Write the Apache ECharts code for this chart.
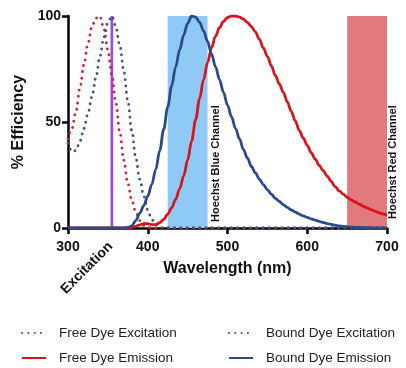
<!DOCTYPE html>
<html>
<head>
<meta charset="utf-8">
<script src="https://cdn.jsdelivr.net/npm/echarts@6/dist/echarts.min.js"></script>
<style>
  html, body { margin: 0; padding: 0; background: #fff; }
  #chart { width: 406px; height: 368px; }
</style>
</head>
<body>
<div id="chart"></div>
<script>
// Hoechst dye spectra: [wavelength nm, % efficiency]
const freeExcitation = [
  [300, 42], [305, 47], [310, 55], [315, 66], [320, 77], [325, 87], [330, 95],
  [335, 99], [340, 100], [345, 94], [350, 84], [355, 72], [360, 59], [365, 45],
  [370, 32], [375, 21], [380, 13], [385, 7.5], [390, 3.5], [395, 1.2], [400, 0.3],
  [405, 0], [410, 0], [700, 0]
];
const boundExcitation = [
  [300, 40], [305, 36], [310, 36.5], [315, 41], [320, 47], [325, 54], [330, 62],
  [335, 71], [340, 81], [345, 90], [350, 97], [355, 100], [360, 95], [365, 86],
  [370, 74], [375, 60], [380, 46], [385, 33], [390, 23], [395, 15], [400, 8.5],
  [405, 4], [410, 1.5], [415, 0.3], [420, 0], [425, 0], [700, 0]
];
const freeEmission = [
  [300, 0], [365, 0], [370, 0], [375, 0], [380, 0.3], [385, 0.8], [390, 1.5],
  [395, 2], [400, 2], [405, 1.6], [410, 1.6], [415, 2.5], [420, 4], [425, 6.5],
  [430, 9.5], [435, 13.5], [440, 18.5], [445, 24.5], [450, 32], [455, 41],
  [460, 51], [465, 61], [470, 70], [475, 78], [480, 85], [485, 90.5], [490, 94.5],
  [495, 97.5], [500, 99.3], [505, 100], [510, 100], [515, 99.5], [520, 98.5],
  [525, 97], [530, 95], [535, 92.5], [540, 89], [545, 85], [550, 81], [555, 76.5],
  [560, 72], [565, 68], [570, 64], [575, 59.5], [580, 55], [585, 50.5], [590, 46],
  [595, 42.5], [600, 39], [605, 35.5], [610, 32.5], [615, 29.5], [620, 27],
  [625, 24.5], [630, 22], [635, 19.5], [640, 17.5], [645, 16], [650, 14.5],
  [655, 13.3], [660, 12.3], [665, 11.3], [670, 10.3], [675, 9.5], [680, 8.7],
  [685, 7.9], [690, 7.2], [695, 6.6], [700, 6]
];
const boundEmission = [
  [300, 0], [365, 0], [370, 0], [375, 0.3], [380, 1], [385, 3.5], [390, 7],
  [395, 10.5], [400, 15], [405, 20.5], [410, 27.5], [415, 36.5], [420, 46.5],
  [425, 57], [430, 67], [435, 76], [440, 84], [445, 91], [450, 96.5], [455, 100],
  [460, 99.5], [465, 97], [470, 93], [475, 88], [480, 82], [485, 76], [490, 70],
  [495, 64], [500, 58], [505, 52.5], [510, 47], [515, 42], [520, 37], [525, 33],
  [530, 29], [535, 26], [540, 23], [545, 20.5], [550, 18], [555, 16], [560, 14],
  [565, 12.5], [570, 11], [575, 9.7], [580, 8.5], [585, 7.5], [590, 6.5],
  [595, 5.7], [600, 5], [605, 4.3], [610, 3.7], [615, 3.1], [620, 2.6],
  [625, 2.1], [630, 1.7], [635, 1.3], [640, 1], [645, 0.8], [650, 0.6],
  [655, 0.45], [660, 0.3], [665, 0.25], [670, 0.2], [675, 0.15], [680, 0.1],
  [685, 0.07], [690, 0.04], [695, 0.02], [700, 0]
];
const excitationLaser = [[355, 0], [355, 100]];
const blueChannel = [425, 475];
const redChannel = [650, 700];
const xTicks = { min: 300, max: 700, step: 100 };
const yTicks = { min: 0, max: 100, step: 50 };

const FONT = '"Liberation Sans", Arial, sans-serif';
const RED = '#d8141c';
const NAVY = '#2c4a88';
const RED_DOT = '#cf2233';
const NAVY_DOT = '#3b5680';

const dotted = { type: [0.1, 6.2], cap: 'round', width: 2.8 };

const chart = echarts.init(document.getElementById('chart'), null, { renderer: 'canvas' });

const legendBase = {
  top: 326, orient: 'vertical', itemGap: 11, padding: 0,
  itemWidth: 24, itemHeight: 14,
  itemStyle: { opacity: 0 },
  textStyle: { fontFamily: FONT, fontSize: 13.5, color: '#222', padding: [0, 0, 0, 8] }
};

const option = {
  animation: false,
  backgroundColor: '#fff',
  grid: { left: 68, right: 19, top: 16, bottom: 140 },
  legend: [
    Object.assign({ left: 21, data: ['Free Dye Excitation', 'Free Dye Emission'] }, legendBase),
    Object.assign({ left: 228, data: ['Bound Dye Excitation', 'Bound Dye Emission'] }, legendBase)
  ],
  xAxis: {
    type: 'value', min: xTicks.min, max: xTicks.max, interval: xTicks.step,
    name: 'Wavelength (nm)', nameLocation: 'middle', nameGap: 33,
    nameTextStyle: { fontFamily: FONT, fontSize: 16, fontWeight: 'bold', color: '#111' },
    axisLine: { lineStyle: { color: '#000', width: 2.5 } },
    axisTick: { length: 6, lineStyle: { color: '#000', width: 2.5 } },
    axisLabel: { fontFamily: FONT, fontSize: 14, fontWeight: 'bold', color: '#111', margin: 12 },
    splitLine: { show: false }
  },
  yAxis: {
    type: 'value', min: yTicks.min, max: yTicks.max, interval: yTicks.step,
    name: '% Efficiency', nameLocation: 'middle', nameGap: 36,
    nameTextStyle: { fontFamily: FONT, fontSize: 16, fontWeight: 'bold', color: '#111' },
    axisLine: { show: true, lineStyle: { color: '#000', width: 2.5 } },
    axisTick: { show: true, length: 6, lineStyle: { color: '#000', width: 2.5 } },
    axisLabel: { fontFamily: FONT, fontSize: 14, fontWeight: 'bold', color: '#111', margin: 7 },
    splitLine: { show: false }
  },
  series: [
    {
      name: 'channels', type: 'line', data: [], z: 1, silent: true, symbol: 'none',
      markArea: {
        silent: true,
        data: [
          [{ xAxis: blueChannel[0], yAxis: 0, itemStyle: { color: '#8fcaf6' } }, { xAxis: blueChannel[1], yAxis: 100 }],
          [{ xAxis: redChannel[0], yAxis: 0, itemStyle: { color: '#e07a7c' } }, { xAxis: redChannel[1], yAxis: 100 }]
        ]
      }
    },
    {
      name: 'laser', type: 'line', data: excitationLaser, symbol: 'none', z: 2,
      lineStyle: { color: '#9b4ae6', width: 2.7 }
    },
    {
      name: 'Free Dye Excitation', type: 'line', data: freeExcitation,
      symbol: 'none', smooth: 0.35, smoothMonotone: 'x', z: 3,
      color: RED_DOT, lineStyle: Object.assign({ color: RED_DOT }, dotted)
    },
    {
      name: 'Bound Dye Excitation', type: 'line', data: boundExcitation,
      symbol: 'none', smooth: 0.35, smoothMonotone: 'x', z: 3,
      color: NAVY_DOT, lineStyle: Object.assign({ color: NAVY_DOT }, dotted)
    },
    {
      name: 'Free Dye Emission', type: 'line', data: freeEmission,
      symbol: 'none', smooth: 0.35, smoothMonotone: 'x', z: 4,
      color: RED, lineStyle: { color: RED, width: 2.8 }
    },
    {
      name: 'Bound Dye Emission', type: 'line', data: boundEmission,
      symbol: 'none', smooth: 0.35, smoothMonotone: 'x', z: 5,
      color: NAVY, lineStyle: { color: NAVY, width: 2.8 }
    }
  ]
};

chart.setOption(option);

// Rotated annotations anchored to data positions
const toPx = (x, y) => chart.convertToPixel({ xAxisIndex: 0, yAxisIndex: 0 }, [x, y]);
const blueEdge = toPx(blueChannel[1], 0);
const redEdge = toPx(redChannel[1], 0);
const laserFoot = toPx(excitationLaser[0][0], 0);

chart.setOption({
  graphic: [
    {
      type: 'text', x: blueEdge[0] + 8.5, y: blueEdge[1] - 6, rotation: Math.PI / 2,
      style: { text: 'Hoechst Blue Channel', fontFamily: FONT, fontSize: 11, fontWeight: 'bold',
               fill: '#111', align: 'left', verticalAlign: 'middle' }, z: 10
    },
    {
      type: 'text', x: redEdge[0] + 6, y: redEdge[1] - 9, rotation: Math.PI / 2,
      style: { text: 'Hoechst Red Channel', fontFamily: FONT, fontSize: 11, fontWeight: 'bold',
               fill: '#111', align: 'left', verticalAlign: 'middle' }, z: 10
    },
    {
      type: 'text', x: laserFoot[0] - 25, y: laserFoot[1] + 40, rotation: Math.PI / 4,
      style: { text: 'Excitation', fontFamily: FONT, fontSize: 14, fontWeight: 'bold',
               fill: '#111', align: 'center', verticalAlign: 'middle' }, z: 10
    }
  ]
});
</script>
</body>
</html>
